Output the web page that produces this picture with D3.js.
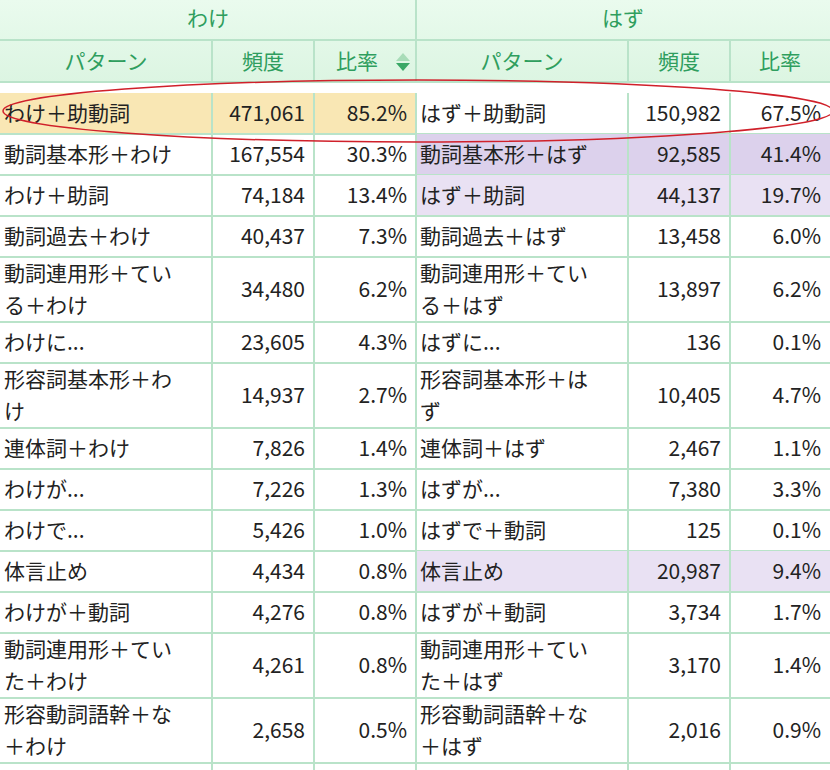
<!DOCTYPE html><html><head><meta charset="utf-8"><script src="https://cdn.jsdelivr.net/npm/d3@7"></script>
<style>body{margin:0;background:#fff}text{font-family:"Noto Sans CJK JP","Noto Sans",sans-serif}</style></head><body><svg id="c" width="830" height="770"></svg><script>
const groups=["わけ","はず"];
const headers=["パターン","頻度","比率"];
const wakePattern=["わけ＋助動詞","動詞基本形＋わけ","わけ＋助詞","動詞過去＋わけ","動詞連用形＋てい\nる＋わけ","わけに...","形容詞基本形＋わ\nけ","連体詞＋わけ","わけが...","わけで...","体言止め","わけが＋動詞","動詞連用形＋てい\nた＋わけ","形容動詞語幹＋な\n＋わけ"];
const wakeFreq=[471061,167554,74184,40437,34480,23605,14937,7826,7226,5426,4434,4276,4261,2658];
const wakeRate=[85.2,30.3,13.4,7.3,6.2,4.3,2.7,1.4,1.3,1.0,0.8,0.8,0.8,0.5];
const hazuPattern=["はず＋助動詞","動詞基本形＋はず","はず＋助詞","動詞過去＋はず","動詞連用形＋てい\nる＋はず","はずに...","形容詞基本形＋は\nず","連体詞＋はず","はずが...","はずで＋動詞","体言止め","はずが＋動詞","動詞連用形＋てい\nた＋はず","形容動詞語幹＋な\n＋はず"];
const hazuFreq=[150982,92585,44137,13458,13897,136,10405,2467,7380,125,20987,3734,3170,2016];
const hazuRate=[67.5,41.4,19.7,6.0,6.2,0.1,4.7,1.1,3.3,0.1,9.4,1.7,1.4,0.9];
const hazuShade=[0,2,1,0,0,0,0,0,0,0,1,0,0,0];

const svg=d3.select("#c");
const colX=[0,212,314,416,628,730,830];
const line="#b9e3c9", green="#2f9e5e";
const defs=svg.append("defs");
const g=defs.append("linearGradient").attr("id","hg").attr("x1",0).attr("x2",0).attr("y1",0).attr("y2",1);
g.append("stop").attr("offset",0).attr("stop-color","#eafbee");g.append("stop").attr("offset",1).attr("stop-color","#dcf5e2");
svg.append("rect").attr("width",830).attr("height",82).attr("fill","url(#hg)");
[[0,416],[416,830]].forEach((r,i)=>svg.append("text").attr("x",(r[0]+r[1])/2).attr("y",26).attr("text-anchor","middle").attr("font-size",21).attr("fill",green).text(groups[i]));
svg.append("line").attr("x1",416).attr("x2",416).attr("y1",0).attr("y2",40).attr("stroke",line).attr("stroke-width",2);
svg.append("line").attr("x1",0).attr("x2",830).attr("y1",40).attr("y2",40).attr("stroke",line).attr("stroke-width",2);
for(let i=0;i<6;i++){
  svg.append("text").attr("x",(colX[i]+colX[i+1])/2-(i==2?8:0)).attr("y",69).attr("text-anchor","middle").attr("font-size",21).attr("fill",green).text(headers[i%3]);
}
svg.append("path").attr("d","M396,61 l14,0 l-7,-8 z").attr("fill","#a8dcb8");
svg.append("path").attr("d","M396,63 l14,0 l-7,8 z").attr("fill","#3aa866");
for(let i=1;i<6;i++) svg.append("line").attr("x1",colX[i]).attr("x2",colX[i]).attr("y1",40).attr("y2",82).attr("stroke",line).attr("stroke-width",2);
svg.append("line").attr("x1",0).attr("x2",830).attr("y1",82).attr("y2",82).attr("stroke",line).attr("stroke-width",2);

const heights=wakePattern.map(p=>p.includes("\n")?65:41);
let y0=93;const tops=heights.map(h=>{const t=y0;y0+=h;return t;});
const fmt=d3.format(",");
const shade=["none","#e9e1f3","#dcd1ec"];
wakePattern.forEach((p,i)=>{
  const t=tops[i],h=heights[i];
  if(i===0) svg.append("rect").attr("x",0).attr("y",t).attr("width",416).attr("height",h).attr("fill","#f9e7b4");
  if(hazuShade[i]) svg.append("rect").attr("x",416).attr("y",t).attr("width",414).attr("height",h).attr("fill",shade[hazuShade[i]]);
  const cells=[[p,0],[fmt(wakeFreq[i]),1],[wakeRate[i].toFixed(1)+"%",2],[hazuPattern[i],3],[fmt(hazuFreq[i]),4],[hazuRate[i].toFixed(1)+"%",5]];
  cells.forEach(([txt,c])=>{
    const lines=txt.split("\n");
    const left=c%3===0;
    lines.forEach((l,k)=>{
      const cy=t+h/2+(lines.length>1?(k?16:-16):0)+7;
      svg.append("text").attr("x",left?colX[c]+4:colX[c+1]-9).attr("y",cy).attr("text-anchor",left?"start":"end").attr("font-size",21).attr("fill","#222").text(l);
    });
  });
  svg.append("line").attr("x1",0).attr("x2",830).attr("y1",t+h).attr("y2",t+h).attr("stroke",line).attr("stroke-width",2);
});
for(let i=1;i<6;i++) svg.append("line").attr("x1",colX[i]).attr("x2",colX[i]).attr("y1",93).attr("y2",770).attr("stroke",line).attr("stroke-width",2);
svg.append("ellipse").attr("cx",418).attr("cy",111).attr("rx",415).attr("ry",31).attr("fill","none").attr("stroke","#d0202a").attr("stroke-width",1.5);
</script></body></html>
